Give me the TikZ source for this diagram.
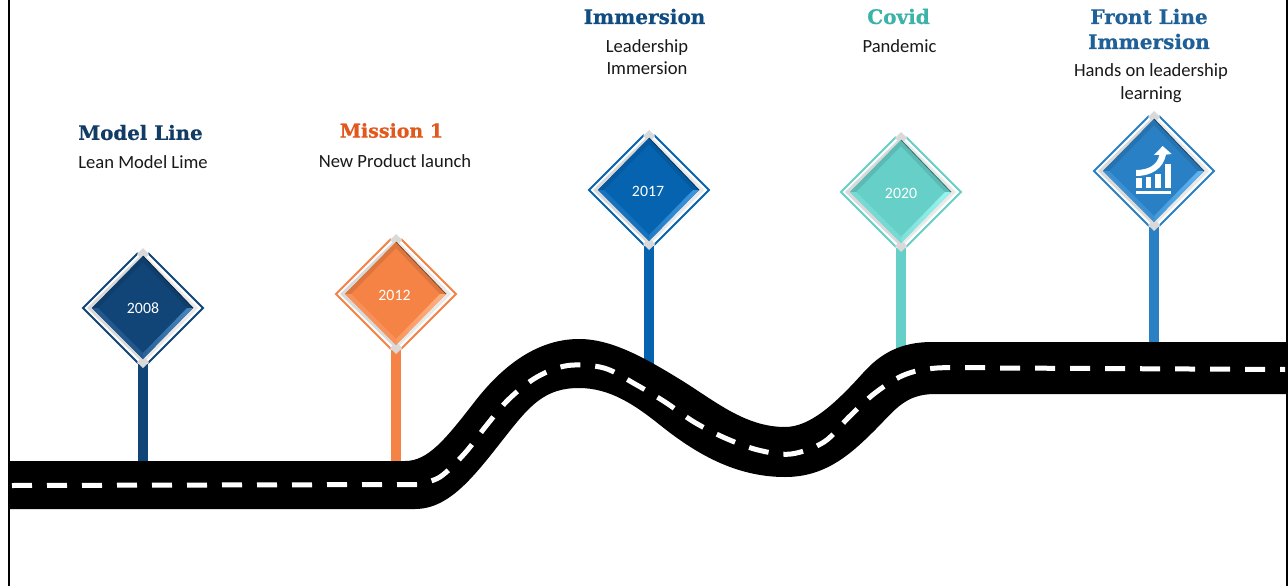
\documentclass[tikz,border=0pt]{standalone}
\usepackage{fontspec}
\setmainfont{Carlito}
\newfontfamily\titlefont{DejaVu Serif Bold}[FakeBold=0.5]
\usetikzlibrary{shapes.geometric}
\definecolor{cnavy}{HTML}{114578}
\definecolor{cnavyl}{HTML}{4A86C0}
\definecolor{corange}{HTML}{F58345}
\definecolor{corangel}{HTML}{FFB080}
\definecolor{cblue}{HTML}{0563B0}
\definecolor{cbluel}{HTML}{3F97E0}
\definecolor{cteal}{HTML}{66CFC8}
\definecolor{ctealL}{HTML}{9AF5EF}
\definecolor{csky}{HTML}{2A80C4}
\definecolor{cskyl}{HTML}{62B6F2}
\definecolor{tnavy}{HTML}{123C66}
\definecolor{torange}{HTML}{E2571B}
\definecolor{tblue}{HTML}{0F4C81}
\definecolor{tteal}{HTML}{3BB3A8}
\definecolor{tsky}{HTML}{1F6098}
\definecolor{cgrey}{HTML}{D9D9D9}
\definecolor{cgreyl}{HTML}{E9E9E9}
\tikzset{
  x=1pt,y=-1pt,
  signout/.style={diamond,aspect=1,inner sep=0pt,minimum width=112pt,minimum height=112pt},
  postline/.style={draw=#1,line width=10pt},
  yeartext/.style={text=white,font=\fontsize{15.8}{18}\selectfont},
  headtext/.style={font=\titlefont\fontsize{#1}{25}\selectfont,align=center},
  bodytext/.style={font=\fontsize{18.6}{22.5}\selectfont,align=center,text=black!90},
  dashline/.style={draw=white,line width=5pt,dash pattern=on 20pt off 15pt}
}
\newcommand{\signpost}[6]{%
  % #1 name, #2 x, #3 y, #4 colour, #5 light colour, #6 road end y
  \node[signout] (s#1) at (#2,#3) {};
  \coordinate (r#1) at (#2,#6);
  \draw[postline=#4] (s#1.south) -- (r#1);
  \begin{scope}[shift={(#2,#3)}]
    \draw[#4,line width=1.9pt,line join=miter] (-5,-55) -- (-60,0) -- (-5,55);
    \draw[#4,line width=1.9pt,line join=miter] (5,-55) -- (60,0) -- (5,55);
    \fill[cgrey] (0,-55) -- (-56,0) -- (0,55) -- cycle;
    \fill[cgreyl] (0,-55) -- (55,0) -- (0,55) -- cycle;
    \fill[cgrey] (0,-60) -- (6,-54) -- (0,-48) -- (-6,-54) -- cycle;
    \fill[cgrey] (0,60) -- (6,54) -- (0,48) -- (-6,54) -- cycle;
    \fill[#4] (0,-52) -- (50,0) -- (0,51) -- (-51,0) -- cycle;
    \fill[#4!90!black] (0,-52) -- (50,0) -- (44,0) -- (0,-46) -- (-45,0) -- (-51,0) -- cycle;
    \fill[#5!30!#4] (-51,0) -- (0,51) -- (0,45) -- (-45,0) -- cycle;
    \shade[left color=#5!45!#4,right color=#5] (50,0) -- (0,51) -- (0,45) -- (44,0) -- cycle;
    \draw[#4!55!black,line width=.8pt] (0,-52) -- (50,0);
  \end{scope}
}
\begin{document}
\begin{tikzpicture}
\useasboundingbox (0,0) rectangle (1288,586);
\fill[white] (0,0) rectangle (1288,586);

% frame sides
\coordinate (fl1) at (9,0); \coordinate (fl2) at (9,586);
\coordinate (fr1) at (1287,0); \coordinate (fr2) at (1287,586);
\draw[black,line width=2pt] (fl1) -- (fl2);
\draw[black,line width=1.6pt] (fr1) -- (fr2);

% signs and posts
\signpost{a}{143}{308}{cnavy}{cnavyl}{466}
\signpost{b}{396}{294}{corange}{corangel}{466}
\signpost{c}{649}{190}{cblue}{cbluel}{375}
\signpost{d}{901}{192}{cteal}{ctealL}{365}
\signpost{e}{1154}{171}{csky}{cskyl}{350}

% road
\fill[black] (9,461) -- (405,461)
  .. controls (428,461) and (445,440) .. (476,400)
  .. controls (495,376) and (530,339) .. (579,339)
  .. controls (612,339) and (645,358) .. (681,380)
  .. controls (715,401) and (745,427) .. (785,427)
  .. controls (810,427) and (835,404) .. (863,373)
  .. controls (880,354) and (900,342) .. (932,342)
  -- (1286,342) -- (1286,394) -- (935,394)
  .. controls (905,394) and (895,410) .. (875,430)
  .. controls (850,455) and (825,477) .. (785,477)
  .. controls (735,477) and (695,453) .. (660,425)
  .. controls (635,405) and (610,388) .. (579,388)
  .. controls (545,388) and (530,405) .. (505,437)
  .. controls (475,475) and (450,509) .. (415,509)
  -- (9,509) -- cycle;

% centre line
\draw[dashline] (12,485.5) -- plot[smooth,tension=.55] coordinates {(417,484.5) (440,477) (465,453) (486,426) (509,399) (537,377) (568,365.5) (604,368) (635,384) (665,402) (694,422) (725,438) (758,450) (791,454) (824,442) (849,417) (875,393) (904,375) (937,368) (1000,368)} -- (1285,369.5);

% years
\node[yeartext] (ya) at (143,308.5) {2008};
\node[yeartext] (yb) at (394.5,295.5) {2012};
\node[yeartext] (yc) at (648,191) {2017};
\node[yeartext] (yd) at (901,193) {2020};

% growth icon
\begin{scope}[shift={(1080,100)},x=.3333pt,y=-.3333pt,white]
  \fill (168,272) rectangle (273,281);
  \fill (168,235) rectangle (185,263);
  \fill (197,232) rectangle (214,263);
  \fill (225,222) rectangle (243,263);
  \fill (255,193) rectangle (273,263);
  \fill (168,210) .. controls (205,210) and (232,195) .. (238,165) -- (222,165) -- (248,138) -- (275,162) -- (258,164)
     .. controls (250,205) and (215,228) .. (168,228) -- cycle;
\end{scope}

% labels
\node[headtext=19.8,text=tnavy] (ha) at (140.5,132.5) {Model Line};
\node[bodytext] (ba) at (143,162) {Lean Model Lime};
\node[headtext=19,text=torange] (hb) at (391.5,130.5) {Mission 1};
\node[bodytext] (bb) at (395,161) {New Product launch};
\node[headtext=20,text=tblue] (hc) at (644.5,16.5) {Immersion};
\node[bodytext] (bc) at (647,57) {Leadership\\Immersion};
\node[headtext=20,text=tteal] (hd) at (898.5,16.5) {Covid};
\node[bodytext] (bd) at (899.5,46) {Pandemic};
\node[headtext=20,text=tsky] (he) at (1149,29) {Front Line\\Immersion};
\node[bodytext] (be) at (1151,83) {Hands on leadership\\learning};
\end{tikzpicture}
\end{document}
